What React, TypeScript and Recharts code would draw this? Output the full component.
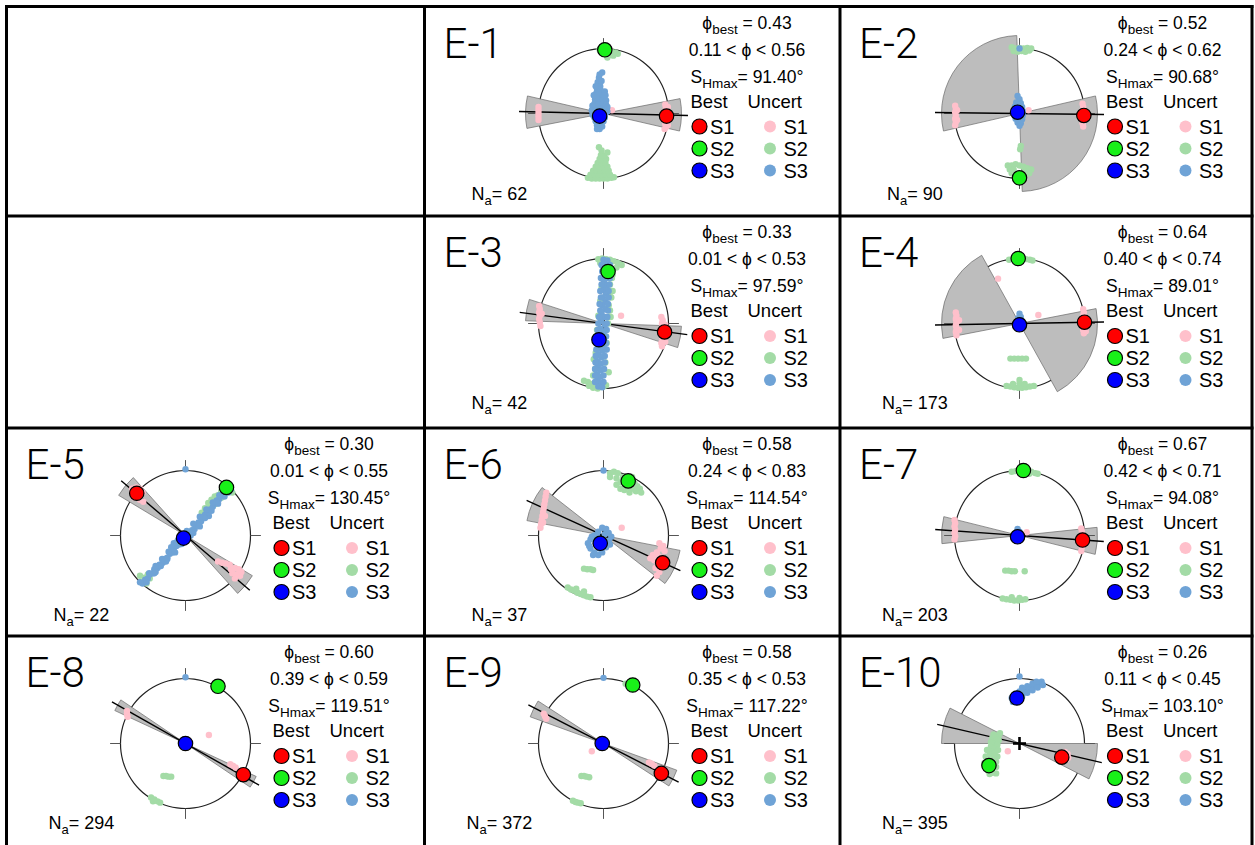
import React from 'react';
import { ScatterChart, Scatter, XAxis, YAxis, ReferenceLine, PieChart, Pie, Cell } from 'recharts';

type P = [number, number];

// ---------- data ----------
const panelNames = ['E-1', 'E-2', 'E-3', 'E-4', 'E-5', 'E-6', 'E-7', 'E-8', 'E-9', 'E-10'];
const panelCol = [1, 2, 1, 2, 0, 1, 2, 0, 1, 2];
const panelRow = [0, 0, 1, 1, 2, 2, 2, 3, 3, 3];
const phiBest = ['0.43', '0.52', '0.33', '0.64', '0.30', '0.58', '0.67', '0.60', '0.58', '0.26'];
const phiLow = ['0.11', '0.24', '0.01', '0.40', '0.01', '0.24', '0.42', '0.39', '0.35', '0.11'];
const phiHigh = ['0.56', '0.62', '0.53', '0.74', '0.55', '0.83', '0.71', '0.59', '0.53', '0.45'];
const shmax = [91.4, 90.68, 97.59, 89.01, 130.45, 114.54, 94.08, 119.51, 117.22, 103.1];
const wedgeFrom = [79, 77, 92, 79, 121, 101, 84, 115, 110, 90];
const wedgeTo = [103, 178, 108, 151, 138, 128, 104, 124, 123, 117];
const nA = [62, 90, 42, 173, 22, 37, 203, 294, 372, 395];

const bestS1: P[] = [[0.97, -0.04], [0.99, -0.03], [0.94, -0.13], [1.0, 0.02], [-0.75, 0.65], [0.91, -0.42], [0.97, -0.07], [0.89, -0.48], [0.89, -0.46], [0.65, -0.21]];
const bestS2: P[] = [[0.02, 0.98], [0.0, -0.99], [0.07, 0.8], [-0.02, 1.0], [0.63, 0.74], [0.38, 0.84], [0.06, 1.0], [0.5, 0.88], [0.45, 0.9], [-0.47, -0.34]];
const bestS3: P[] = [[-0.06, -0.04], [-0.03, 0.02], [-0.07, -0.25], [0.0, -0.02], [-0.03, -0.04], [-0.05, -0.12], [-0.03, -0.02], [0.0, 0.0], [-0.02, 0.0], [-0.04, 0.7]];

const uncS1: P[][] = [
  [[0.95, 0.14], [0.96, 0.09], [0.95, 0.04], [0.96, -0.01], [0.95, -0.06], [0.96, -0.11], [0.95, -0.16], [0.96, -0.21], [0.94, -0.24], [0.99, -0.18], [0.99, 0.1], [-1.0, 0.1], [-1.0, 0.05], [-1.0, 0.0], [-1.0, -0.05], [-1.0, -0.1], [0.13, 0.05]],
  [[-0.99, 0.12], [-0.98, 0.07], [-0.99, 0.02], [-0.98, -0.03], [-0.99, -0.08], [-0.98, -0.13], [-0.99, -0.18], [-0.96, 0.05], [-0.96, -0.1], [0.97, 0.15], [0.98, 0.1], [0.97, 0.05], [0.98, 0.0], [0.97, -0.05], [0.98, -0.1], [0.97, -0.15], [0.98, -0.2], [1.01, -0.08], [0.14, 0.05]],
  [[-0.99, 0.27], [-0.98, 0.22], [-0.99, 0.17], [-0.98, 0.12], [-0.99, 0.07], [-0.98, 0.02], [-0.97, -0.04], [-0.95, 0.15], [0.89, 0.1], [0.91, 0.05], [0.9, 0.0], [0.92, -0.05], [0.89, -0.1], [0.91, -0.15], [0.9, -0.2], [0.91, -0.25], [0.89, -0.3], [0.9, -0.35], [0.95, -0.02], [0.95, -0.28], [0.27, 0.12]],
  [[-0.98, 0.17], [-0.97, 0.12], [-0.98, 0.07], [-0.97, 0.02], [-0.98, -0.03], [-0.97, -0.08], [-0.98, -0.13], [-0.97, -0.18], [-0.93, 0.05], [-0.93, -0.1], [0.98, 0.22], [0.99, 0.17], [0.98, 0.12], [0.99, 0.07], [0.99, -0.05], [0.98, -0.1], [0.99, -0.15], [1.02, -0.12], [-0.33, 0.69], [0.29, 0.13]],
  [[-0.82, 0.72], [-0.76, 0.74], [-0.7, 0.72], [-0.66, 0.66], [-0.72, 0.6], [-0.78, 0.58], [-0.7, 0.55], [-0.65, 0.52], [0.5, -0.4], [0.56, -0.42], [0.62, -0.43], [0.68, -0.45], [0.7, -0.52], [0.76, -0.5], [0.82, -0.52], [0.86, -0.56], [0.72, -0.58], [0.78, -0.6], [0.84, -0.62], [0.76, -0.66]],
  [[-0.97, 0.12], [-0.96, 0.18], [-0.95, 0.24], [-0.94, 0.3], [-0.93, 0.36], [-0.92, 0.42], [-0.91, 0.48], [-0.9, 0.54], [-0.89, 0.6], [-0.88, 0.66], [-0.93, 0.2], [-0.9, 0.3], [0.86, -0.12], [0.92, -0.16], [0.88, -0.2], [0.94, -0.24], [0.82, -0.26], [0.76, -0.3], [0.84, -0.32], [0.9, -0.34], [0.78, -0.38], [0.84, -0.44], [0.8, -0.5], [0.86, -0.56], [0.82, -0.62], [0.88, -0.5], [0.72, -0.35], [0.28, 0.12]],
  [[-1.0, 0.24], [-0.99, 0.19], [-1.0, 0.14], [-0.99, 0.09], [-1.0, 0.04], [-0.99, -0.01], [-1.0, -0.06], [0.95, 0.11], [0.96, 0.06], [0.95, 0.0], [0.96, -0.06], [0.95, -0.12], [0.96, -0.18], [0.95, -0.24], [0.11, 0.05]],
  [[-0.9, 0.5], [-0.9, 0.45], [-0.89, 0.41], [0.69, -0.32], [0.73, -0.34], [0.77, -0.37], [0.36, 0.13]],
  [[-0.92, 0.46], [-0.9, 0.42], [-0.88, 0.38], [0.7, -0.29], [0.74, -0.31], [0.78, -0.34], [-0.18, -0.12]],
  [[0.7, -0.13], [0.74, -0.16], [0.7, -0.2], [0.75, -0.22], [0.72, -0.25], [-0.18, -0.12]],
];

const uncS2: P[][] = [
  [[-0.06, 0.98], [0.0, 0.96], [0.06, 0.97], [0.12, 0.95], [0.18, 0.94], [0.22, 0.92], [0.03, 0.91], [0.09, 0.9], [0.15, 0.89], [0.06, 0.86],
   [-0.24, -0.99], [-0.18, -1.0], [-0.12, -1.0], [-0.06, -1.0], [0.0, -1.0], [0.06, -1.0], [0.12, -0.99], [0.16, -0.98],
   [-0.2, -0.94], [-0.14, -0.94], [-0.08, -0.94], [-0.02, -0.94], [0.04, -0.94], [0.1, -0.94],
   [-0.16, -0.88], [-0.1, -0.88], [-0.04, -0.88], [0.02, -0.88], [0.08, -0.88],
   [-0.12, -0.82], [-0.06, -0.82], [0.0, -0.82], [0.06, -0.82],
   [-0.09, -0.76], [-0.03, -0.76], [0.03, -0.76], [-0.06, -0.7], [0.0, -0.7], [0.04, -0.7], [-0.04, -0.64], [0.01, -0.65],
   [-0.07, -0.52], [0.06, -0.6], [-0.03, -0.57]],
  [[-0.12, 1.02], [-0.06, 1.0], [0.0, 1.01], [0.06, 1.0], [0.12, 1.01], [0.18, 1.0], [-0.09, 0.96], [-0.03, 0.95], [0.03, 0.96], [0.09, 0.95], [0.15, 0.97],
   [-0.18, -0.8], [-0.12, -0.8], [-0.06, -0.78], [0.0, -0.8], [0.06, -0.82], [0.12, -0.84], [0.18, -0.86], [-0.15, -0.86], [-0.09, -0.86], [0.09, -0.9], [0.15, -0.92], [-0.12, -0.92], [0.06, -0.96], [-0.05, -0.98], [0.03, -1.0],
   [0.01, -0.55], [0.02, -0.5]],
  [[-0.08, 0.99], [-0.02, 1.0], [0.04, 0.99], [0.1, 0.98], [0.16, 0.96], [0.22, 0.93], [0.28, 0.9], [-0.05, 0.93], [0.2, 0.86], [0.14, 0.75], [0.0, 0.85],
   [0.1, 0.6], [-0.03, 0.55], [0.09, 0.45], [-0.05, 0.35], [0.08, 0.28], [0.1, 0.2], [-0.08, 0.12], [0.07, 0.0], [-0.1, -0.1], [0.05, -0.3], [-0.12, -0.45], [0.03, -0.6], [-0.13, -0.7],
   [0.13, 0.7], [0.14, 0.5], [0.12, 0.4], [0.11, 0.1], [-0.12, -0.2], [-0.15, -0.55], [-0.16, -0.8], [0.08, -0.75],
   [-0.3, -0.88], [-0.24, -0.9], [-0.18, -0.93], [-0.12, -0.95], [-0.06, -0.97], [0.0, -0.97], [-0.22, -0.96], [-0.16, -0.99], [-0.09, -1.0], [0.04, -0.95]],
  [[-0.16, 0.98], [-0.1, 0.99], [-0.04, 1.0], [0.04, 1.0], [0.1, 0.99], [0.16, 0.98], [0.2, 0.97],
   [-0.14, -0.54], [-0.08, -0.54], [-0.02, -0.54], [0.04, -0.54], [0.1, -0.54],
   [-0.2, -0.96], [-0.14, -0.97], [-0.08, -0.98], [-0.02, -0.99], [0.04, -0.99], [0.1, -0.98], [0.16, -0.97], [0.22, -0.96], [-0.1, -0.93], [0.0, -0.92], [0.08, -0.93], [0.0, -0.87]],
  [[0.25, 0.35], [0.3, 0.42], [0.35, 0.5], [0.4, 0.55], [0.45, 0.6], [0.5, 0.62], [0.55, 0.68], [0.6, 0.75], [0.7, 0.74], [0.72, 0.66], [0.55, 0.58], [0.45, 0.48], [0.35, 0.42], [0.62, 0.65], [0.28, 0.28],
   [-0.58, -0.6], [-0.63, -0.65], [-0.7, -0.62], [-0.68, -0.72], [-0.6, -0.74], [-0.55, -0.66]],
  [[0.1, 0.96], [0.1, 0.9], [0.16, 0.98], [0.22, 0.96], [0.2, 0.88], [0.26, 0.82], [0.3, 0.9], [0.34, 0.76], [0.4, 0.74], [0.46, 0.72], [0.52, 0.76], [0.56, 0.72], [0.48, 0.8], [0.32, 0.7], [0.44, 0.9], [0.26, 0.72],
   [0.2, 0.78], [0.36, 0.84], [0.5, 0.68], [0.58, 0.66], [0.4, 0.66],
   [-0.3, -0.51], [-0.25, -0.52], [-0.2, -0.52], [-0.16, -0.53],
   [-0.55, -0.8], [-0.5, -0.83], [-0.45, -0.85], [-0.4, -0.88], [-0.35, -0.9], [-0.3, -0.92], [-0.25, -0.94], [-0.2, -0.95], [-0.42, -0.82], [-0.3, -0.86]],
  [[-0.12, 0.98], [-0.06, 0.99], [0.0, 1.0], [0.12, 0.99], [0.18, 0.98], [0.24, 0.96], [0.28, 0.95], [0.15, 0.95],
   [-0.22, -0.54], [-0.17, -0.54], [-0.12, -0.55], [-0.07, -0.55], [0.08, -0.55],
   [-0.26, -0.97], [-0.2, -0.98], [-0.14, -0.99], [-0.08, -1.0], [-0.02, -1.0], [0.04, -0.99], [0.09, -0.98], [-0.12, -0.95], [0.0, -0.96]],
  [[-0.34, -0.5], [-0.3, -0.5], [-0.26, -0.51], [-0.22, -0.51], [-0.53, -0.83], [-0.48, -0.86], [-0.43, -0.89], [-0.39, -0.91], [-0.5, -0.89]],
  [[-0.34, -0.5], [-0.3, -0.5], [-0.26, -0.51], [-0.22, -0.52], [-0.47, -0.88], [-0.43, -0.9], [-0.39, -0.91], [-0.35, -0.92], [0.34, 0.92]],
  [[-0.36, 0.12], [-0.32, 0.12], [-0.42, 0.08], [-0.36, 0.06], [-0.44, 0.02], [-0.38, 0.0], [-0.44, -0.05], [-0.38, -0.07], [-0.44, -0.12], [-0.38, -0.14], [-0.46, -0.18], [-0.4, -0.2], [-0.48, -0.24], [-0.42, -0.26], [-0.5, -0.3], [-0.42, -0.32], [-0.5, -0.36], [-0.44, -0.38], [-0.48, -0.42], [-0.42, -0.45], [-0.36, -0.46], [-0.46, -0.47],
   [-0.32, 0.05], [-0.34, -0.02], [-0.33, -0.1], [-0.34, -0.2], [-0.36, -0.28], [-0.36, -0.36], [-0.5, -0.1], [-0.52, -0.2], [-0.54, -0.3], [-0.3, 0.16], [-0.4, 0.14]],
];

const uncS3: P[][] = [
  [[-0.02, 0.63], [-0.07, 0.55], [-0.09, 0.48], [-0.05, 0.42], [-0.1, 0.36], [-0.04, 0.35], [0.02, 0.34], [-0.12, 0.3], [-0.06, 0.28], [0.0, 0.27], [-0.13, 0.22], [-0.07, 0.21], [-0.01, 0.2], [0.04, 0.2], [-0.14, 0.15], [-0.08, 0.14], [-0.02, 0.14], [0.04, 0.13], [-0.15, 0.08], [-0.09, 0.08], [-0.03, 0.07], [0.03, 0.07], [-0.15, 0.02], [-0.09, 0.01], [0.03, 0.01], [-0.14, -0.06], [0.02, -0.06], [-0.12, -0.12], [-0.06, -0.12], [0.0, -0.12], [-0.1, -0.18], [-0.04, -0.18], [-0.06, -0.24],
   [-0.17, 0.12], [-0.18, 0.05], [-0.17, -0.02], [0.06, 0.1], [0.06, 0.03], [-0.11, 0.25], [0.03, 0.28], [-0.08, 0.32], [-0.15, 0.28], [-0.12, 0.05], [-0.02, -0.2], [-0.1, -0.24], [-0.03, 0.5], [-0.12, 0.42], [-0.06, 0.6]],
  [[0.0, 1.0], [-0.03, 0.27], [0.0, 0.22], [-0.05, 0.17], [0.02, 0.16], [-0.07, 0.11], [0.04, 0.1], [-0.08, 0.05], [0.05, 0.04], [-0.07, -0.02], [0.05, -0.03], [-0.06, -0.08], [0.04, -0.09], [-0.03, -0.14], [0.02, -0.15], [0.0, -0.19]],
  [[0.0, 0.98], [0.06, 0.97], [0.04, 0.9], [0.06, 0.82], [0.02, 0.76], [0.05, 0.7], [0.01, 0.64], [0.05, 0.58], [0.0, 0.52], [0.04, 0.46], [-0.01, 0.4], [0.03, 0.34], [-0.02, 0.28], [0.03, 0.22], [-0.03, 0.16], [0.02, 0.1], [-0.04, 0.04], [0.02, -0.02], [-0.05, -0.08], [0.01, -0.12], [-0.06, -0.18], [0.0, -0.22], [-0.06, -0.3], [0.0, -0.34], [-0.08, -0.38], [-0.02, -0.42], [-0.08, -0.48], [-0.03, -0.52], [-0.09, -0.58], [-0.04, -0.62], [-0.09, -0.68], [-0.04, -0.72], [-0.1, -0.78], [-0.05, -0.82], [-0.1, -0.88], [-0.05, -0.92], [-0.08, -0.97], [-0.02, -0.98], [0.08, 0.5], [-0.07, 0.1], [0.05, -0.4], [-0.12, -0.6],
   [-0.03, 0.9], [0.1, 0.9], [-0.04, 0.7], [0.1, 0.7], [-0.05, 0.5], [-0.06, 0.3], [0.07, 0.3], [0.06, 0.1], [-0.09, -0.1], [0.05, -0.1], [-0.1, -0.3], [0.04, -0.3], [-0.12, -0.5], [0.02, -0.5], [-0.13, -0.7], [0.01, -0.7], [-0.13, -0.9], [0.0, -0.9],
   [-0.02, 0.8], [0.1, 0.8], [-0.03, 0.6], [0.09, 0.6], [-0.04, 0.4], [0.08, 0.4], [-0.05, 0.2], [0.07, 0.2], [-0.08, 0.0], [0.05, 0.0], [-0.09, -0.2], [0.04, -0.2], [-0.11, -0.4], [0.03, -0.4], [-0.12, -0.6], [0.02, -0.6], [-0.13, -0.8], [0.0, -0.8]],
  [[0.0, 0.15], [0.02, 0.1], [-0.02, 0.08], [0.03, 0.05]],
  [[-0.66, -0.74], [-0.62, -0.68], [-0.58, -0.66], [-0.55, -0.6], [-0.5, -0.58], [-0.48, -0.52], [-0.43, -0.5], [-0.4, -0.45], [-0.35, -0.42], [-0.32, -0.36], [-0.28, -0.34], [-0.24, -0.28], [-0.2, -0.26], [-0.18, -0.2], [-0.14, -0.16], [-0.1, -0.14], [-0.12, -0.08], [-0.06, -0.1], [-0.02, -0.08], [0.04, -0.02], [0.06, 0.04], [0.1, 0.08], [0.14, 0.1], [0.16, 0.16], [0.2, 0.2], [0.24, 0.22], [0.26, 0.28], [0.3, 0.32], [0.34, 0.36], [0.38, 0.4], [0.42, 0.44], [0.44, 0.5], [0.48, 0.54], [0.52, 0.56], [0.56, 0.62], [0.6, 0.66], [0.64, 0.7], [0.68, 0.74], [0.66, 0.66], [0.5, 0.5], [0.36, 0.3], [0.22, 0.14], [-0.16, -0.26], [-0.3, -0.4], [-0.46, -0.56], [-0.18, -0.12], [-0.22, -0.18], [0.08, 0.0], [0.12, 0.04], [0.0, 1.02],
   [-0.6, -0.72], [-0.48, -0.58], [-0.38, -0.47], [-0.28, -0.36], [-0.18, -0.25], [-0.06, -0.13], [0.1, 0.05], [0.2, 0.16], [0.3, 0.27], [0.4, 0.38], [0.5, 0.49], [0.6, 0.6], [0.7, 0.71],
   [-0.7, -0.72], [-0.56, -0.58], [-0.46, -0.47], [-0.36, -0.36], [-0.26, -0.25], [-0.14, -0.11], [0.02, 0.07], [0.12, 0.18], [0.22, 0.29], [0.32, 0.4], [0.42, 0.51], [0.52, 0.62], [0.62, 0.73]],
  [[-0.02, 0.12], [0.04, 0.1], [0.08, 0.04], [0.12, -0.02], [-0.08, 0.06], [-0.14, 0.0], [-0.2, -0.06], [-0.24, -0.12], [-0.2, -0.2], [-0.14, -0.26], [-0.08, -0.3], [-0.02, -0.26], [0.04, -0.18], [0.08, -0.08], [-0.12, -0.12], [0.02, 0.02], [0.0, 1.0],
   [-0.18, -0.02], [-0.1, 0.0], [0.0, -0.1], [-0.06, -0.2], [0.1, -0.14], [-0.22, -0.16], [-0.16, -0.3]],
  [[-0.03, 0.1], [0.0, 0.06]],
  [[0.0, 1.02]],
  [[0.0, 1.01]],
  [[-0.1, 0.64], [-0.06, 0.68], [-0.02, 0.72], [0.02, 0.76], [0.06, 0.78], [0.1, 0.8], [0.14, 0.84], [0.18, 0.86], [0.22, 0.88], [0.26, 0.9], [0.3, 0.92], [0.34, 0.95], [0.0, 0.8], [0.06, 0.84], [0.12, 0.88], [0.2, 0.92], [0.26, 0.95], [0.0, 1.03], [-0.08, 0.74],
   [-0.04, 0.64], [0.04, 0.72], [0.12, 0.78], [0.2, 0.82], [0.28, 0.86], [0.36, 0.9], [-0.12, 0.7], [-0.06, 0.76], [0.04, 0.86]],
];

// ---------- styling / layout ----------
const colLines = [6.5, 424.5, 840];
const rowLines = [6.5, 216, 428, 636];
const R = 65;
const L = 1.5;
const S = 2 * L * R;
const CX = 179;
const CY = 107;

const C_BEST = ['#ff0000', '#19f019', '#0000ff'];
const C_UNC = ['#ffc0cb', '#a3dba6', '#6fa3d6'];
const FONT = "'Liberation Sans', Arial, Helvetica, sans-serif";

const toXY = (a: P[]) => a.map(([x, y]) => ({ x, y }));

const uncShape = (color: string) => (props: any) => (
  <circle cx={props.cx} cy={props.cy} r={3.2} fill={color} stroke="none" />
);
const bestShape = (color: string) => (props: any) => (
  <circle cx={props.cx} cy={props.cy} r={7.2} fill={color} stroke="#000" strokeWidth={1.2} />
);

function Stereonet({ i }: { i: number }) {
  const left = colLines[panelCol[i]] + CX - S / 2;
  const top = rowLines[panelRow[i]] + CY - S / 2;
  const az = (shmax[i] * Math.PI) / 180;
  const ext = 1.3;
  const w = wedgeTo[i] - wedgeFrom[i];
  const wedgeData = [{ v: w, on: 1 }, { v: 180 - w, on: 0 }, { v: w, on: 1 }, { v: 180 - w, on: 0 }];
  const start = 90 - wedgeFrom[i];
  const tk = 1.16;
  const cr = 0.1;
  return (
    <>
      <div style={{ position: 'absolute', left, top, width: S, height: S }}>
        <PieChart width={S} height={S} margin={{ top: 0, right: 0, bottom: 0, left: 0 }}>
          <Pie data={[{ v: 1 }]} dataKey="v" cx="50%" cy="50%" innerRadius={R - 0.6} outerRadius={R + 0.6}
            startAngle={0} endAngle={360} stroke="none" fill="#222" isAnimationActive={false} />
          <Pie data={wedgeData} dataKey="v" cx="50%" cy="50%" innerRadius={0} outerRadius={R * 1.2}
            startAngle={start} endAngle={start - 360} isAnimationActive={false}>
            {wedgeData.map((d, k) => (
              <Cell key={k} fill={d.on ? '#bdbdbd' : 'none'} stroke={d.on ? '#6a6a6a' : 'none'} strokeWidth={0.7} />
            ))}
          </Pie>
        </PieChart>
      </div>
      <div style={{ position: 'absolute', left, top, width: S, height: S }}>
        <ScatterChart width={S} height={S} margin={{ top: 0, right: 0, bottom: 0, left: 0 }}>
          <XAxis type="number" dataKey="x" domain={[-L, L]} hide allowDataOverflow />
          <YAxis type="number" dataKey="y" domain={[-L, L]} hide allowDataOverflow />
          <ReferenceLine segment={[{ x: 0, y: 1 }, { x: 0, y: tk }]} stroke="#555" strokeWidth={1} ifOverflow="visible" />
          <ReferenceLine segment={[{ x: 0, y: -1 }, { x: 0, y: -tk }]} stroke="#555" strokeWidth={1} ifOverflow="visible" />
          <ReferenceLine segment={[{ x: 1, y: 0 }, { x: tk, y: 0 }]} stroke="#555" strokeWidth={1} ifOverflow="visible" />
          <ReferenceLine segment={[{ x: -1, y: 0 }, { x: -tk, y: 0 }]} stroke="#555" strokeWidth={1} ifOverflow="visible" />
          <ReferenceLine
            segment={[{ x: -Math.sin(az) * ext, y: -Math.cos(az) * ext }, { x: Math.sin(az) * ext, y: Math.cos(az) * ext }]}
            stroke="#000" strokeWidth={1.4} ifOverflow="visible" />
          <Scatter data={toXY(uncS1[i])} shape={uncShape(C_UNC[0])} isAnimationActive={false} />
          <Scatter data={toXY(uncS2[i])} shape={uncShape(C_UNC[1])} isAnimationActive={false} />
          <Scatter data={toXY(uncS3[i])} shape={uncShape(C_UNC[2])} isAnimationActive={false} />
          <ReferenceLine segment={[{ x: -cr, y: 0 }, { x: cr, y: 0 }]} stroke="#000" strokeWidth={2.6} ifOverflow="visible" />
          <ReferenceLine segment={[{ x: 0, y: -cr }, { x: 0, y: cr }]} stroke="#000" strokeWidth={2.6} ifOverflow="visible" />
          <Scatter data={toXY([bestS1[i]])} shape={bestShape(C_BEST[0])} isAnimationActive={false} />
          <Scatter data={toXY([bestS2[i]])} shape={bestShape(C_BEST[1])} isAnimationActive={false} />
          <Scatter data={toXY([bestS3[i]])} shape={bestShape(C_BEST[2])} isAnimationActive={false} />
        </ScatterChart>
      </div>
    </>
  );
}

function PanelText({ i }: { i: number }) {
  const x0 = colLines[panelCol[i]];
  const y0 = rowLines[panelRow[i]];
  const tc = x0 + 322.5;
  const rows = [120, 142, 164];
  return (
    <g fontFamily={FONT} fill="#000">
      <text x={x0 + 19} y={y0 + 51} fontSize={42} fontFamily="Roboto, 'Liberation Sans', sans-serif" fontWeight={300}>{panelNames[i]}</text>
      <text x={tc} y={y0 + 22} fontSize={17.5} textAnchor="middle">
        ϕ<tspan fontSize={13.5} dy={5}>best</tspan><tspan dy={-5}> = {phiBest[i]}</tspan>
      </text>
      <text x={tc} y={y0 + 49} fontSize={17.5} textAnchor="middle">{phiLow[i]} &lt; ϕ &lt; {phiHigh[i]}</text>
      <text x={tc} y={y0 + 76} fontSize={17.5} textAnchor="middle">
        S<tspan fontSize={13.5} dy={5}>Hmax</tspan><tspan dy={-5}>= {shmax[i].toFixed(2)}°</tspan>
      </text>
      <text x={x0 + 266} y={y0 + 101} fontSize={18.5}>Best</text>
      <text x={x0 + 323} y={y0 + 101} fontSize={18.5}>Uncert</text>
      {rows.map((ry, k) => (
        <g key={k}>
          <circle cx={x0 + 275} cy={y0 + ry} r={7.5} fill={C_BEST[k]} stroke="#000" strokeWidth={1.2} />
          <text x={x0 + 285.5} y={y0 + ry + 7} fontSize={20}>S{k + 1}</text>
          <circle cx={x0 + 345.5} cy={y0 + ry} r={6} fill={C_UNC[k]} />
          <text x={x0 + 359} y={y0 + ry + 7} fontSize={20}>S{k + 1}</text>
        </g>
      ))}
      <text x={x0 + 75} y={y0 + 193} fontSize={18} textAnchor="middle">
        N<tspan fontSize={13} dy={5}>a</tspan><tspan dy={-5}>= {nA[i]}</tspan>
      </text>
    </g>
  );
}

export default function App() {
  return (
    <div style={{ position: 'absolute', left: 0, top: 0, width: 1255, height: 845, background: '#fff', overflow: 'hidden' }}>
      <svg width={1255} height={845} style={{ position: 'absolute', left: 0, top: 0 }}>
        <g stroke="#000" strokeWidth={3}>
          <line x1={6.5} y1={5} x2={6.5} y2={845} />
          <line x1={424.5} y1={5} x2={424.5} y2={845} />
          <line x1={840} y1={5} x2={840} y2={845} />
          <line x1={1252} y1={5} x2={1252} y2={845} />
          <line x1={5} y1={6.5} x2={1253.5} y2={6.5} />
          <line x1={5} y1={216} x2={1253.5} y2={216} />
          <line x1={5} y1={428} x2={1253.5} y2={428} />
          <line x1={5} y1={636} x2={1253.5} y2={636} />
        </g>
        {panelNames.map((_, i) => <PanelText key={i} i={i} />)}
      </svg>
      {panelNames.map((_, i) => <Stereonet key={i} i={i} />)}
    </div>
  );
}
